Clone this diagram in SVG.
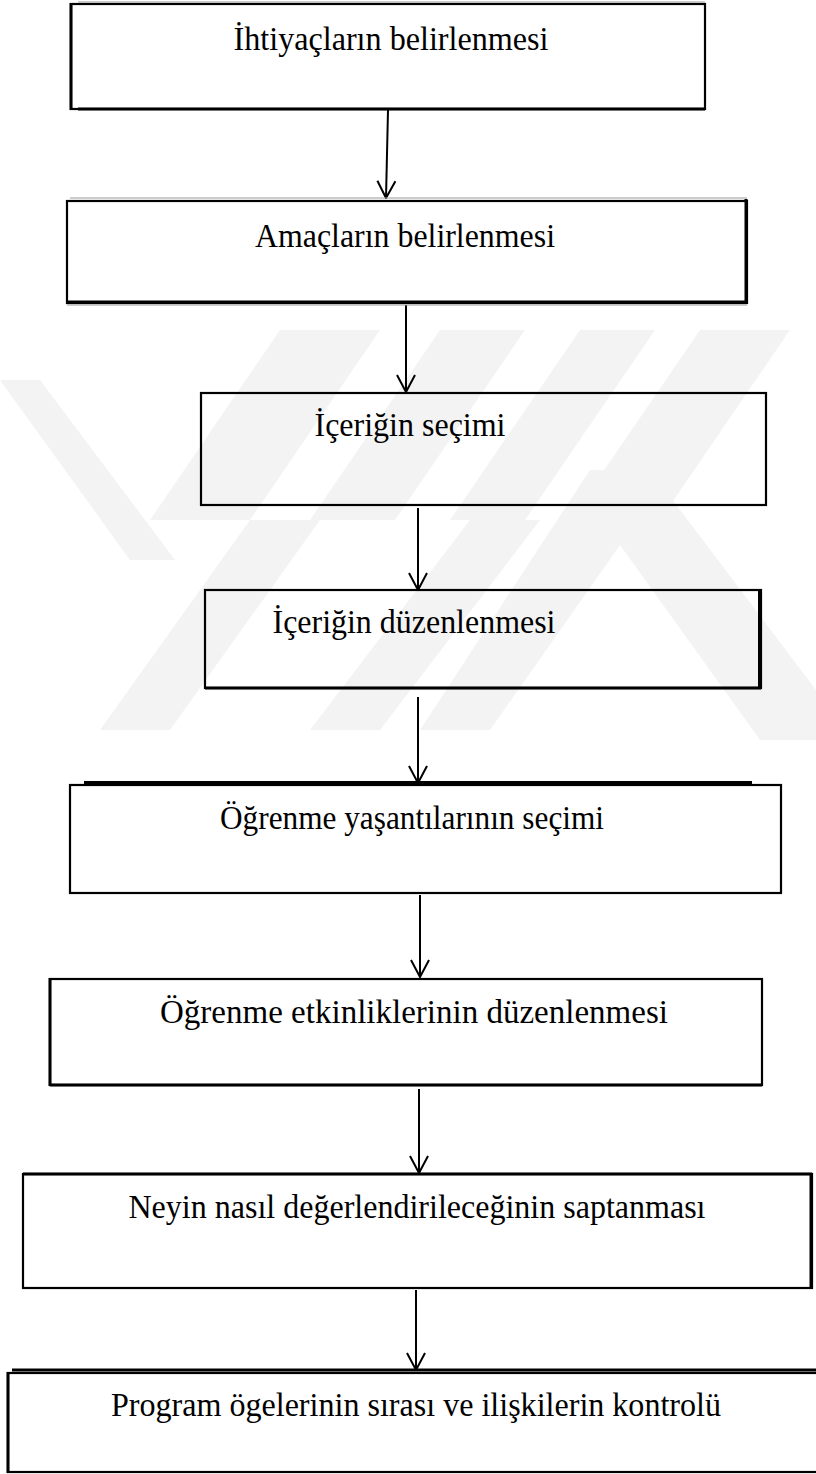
<svg xmlns="http://www.w3.org/2000/svg" width="816" height="1474" viewBox="0 0 816 1474">
  <style>
    .box { fill: none; stroke: #000; stroke-width: 2.2; }
    .edge { stroke: #000; stroke-width: 3; fill: none; }
    .ghost { stroke: #9a9a9a; stroke-width: 1; fill: none; }
    .label { font-family: "Liberation Serif", "Times New Roman", serif; font-size: 34px; fill: #000; text-anchor: middle; }
    .link { stroke: #000; stroke-width: 2; fill: none; }
    .mark { fill: #f3f3f3; }
  </style>
  <defs>
    <marker id="arr" viewBox="0 0 20 20" refX="19" refY="10" markerWidth="20" markerHeight="20" markerUnits="userSpaceOnUse" orient="auto">
      <path d="M2,1 L19,10 L2,19" fill="none" stroke="#000" stroke-width="2"/>
    </marker>
  </defs>

  <rect width="816" height="1474" fill="#fff"/>

  <!-- faint background emblem -->
  <g id="emblem">
    <polygon class="mark" points="280,330 380,330 250,520 150,520"/>
    <polygon class="mark" points="440,330 525,330 395,520 310,520"/>
    <polygon class="mark" points="580,330 655,330 525,520 450,520"/>
    <polygon class="mark" points="700,330 790,330 660,520 570,520"/>
    <polygon class="mark" points="0,380 40,380 175,560 130,560"/>
    <polygon class="mark" points="250,520 320,520 170,730 100,730"/>
    <polygon class="mark" points="470,520 540,520 380,730 310,730"/>
    <polygon class="mark" points="590,470 650,470 816,690 816,740 760,740 620,545 490,730 420,730"/>
  </g>

  <g id="connectors">
    <line class="link" x1="388" y1="110" x2="386" y2="198" marker-end="url(#arr)"/>
    <line class="link" x1="406" y1="305" x2="406" y2="392" marker-end="url(#arr)"/>
    <line class="link" x1="418" y1="508" x2="418" y2="590" marker-end="url(#arr)"/>
    <line class="link" x1="418" y1="697" x2="418" y2="783" marker-end="url(#arr)"/>
    <line class="link" x1="420" y1="895" x2="420" y2="977" marker-end="url(#arr)"/>
    <line class="link" x1="419" y1="1089" x2="419" y2="1173" marker-end="url(#arr)"/>
    <line class="link" x1="416" y1="1290" x2="416" y2="1370" marker-end="url(#arr)"/>
  </g>

  <g id="node1">
    <rect class="box" x="71" y="4" width="634" height="105"/>
    <line class="edge" x1="71" y1="3" x2="71" y2="110"/>
    <line class="ghost" x1="78" y1="2" x2="705" y2="2"/>
    <line class="edge" x1="78" y1="109" x2="705" y2="109"/>
    <text class="label" x="391" y="50" textLength="315" lengthAdjust="spacingAndGlyphs">İhtiyaçların belirlenmesi</text>
  </g>

  <g id="node2">
    <rect class="box" x="67" y="201" width="680" height="102"/>
    <line class="ghost" x1="70" y1="198" x2="747" y2="198"/>
    <line class="edge" x1="746" y1="199" x2="746" y2="304"/>
    <line class="edge" x1="67" y1="302" x2="747" y2="302"/>
    <line class="ghost" x1="67" y1="305" x2="747" y2="305"/>
    <text class="label" x="405" y="247" textLength="300" lengthAdjust="spacingAndGlyphs">Amaçların belirlenmesi</text>
  </g>

  <g id="node3">
    <rect class="box" x="201" y="393" width="565" height="112"/>
    <text class="label" x="410" y="436" textLength="191" lengthAdjust="spacingAndGlyphs">İçeriğin seçimi</text>
  </g>

  <g id="node4">
    <rect class="box" x="205" y="590" width="556" height="98"/>
    <line class="edge" x1="760" y1="589" x2="760" y2="689" style="stroke-width:4"/>
    <line class="edge" x1="205" y1="688" x2="761" y2="688"/>
    <text class="label" x="414" y="633" textLength="283" lengthAdjust="spacingAndGlyphs">İçeriğin düzenlenmesi</text>
  </g>

  <g id="node5">
    <rect class="box" x="70" y="785" width="711" height="108"/>
    <line class="edge" x1="84" y1="783" x2="752" y2="783" style="stroke-width:4"/>
    <text class="label" x="412" y="829" textLength="384" lengthAdjust="spacingAndGlyphs">Öğrenme yaşantılarının seçimi</text>
  </g>

  <g id="node6">
    <rect class="box" x="50" y="979" width="712" height="106"/>
    <line class="edge" x1="50" y1="978" x2="50" y2="1086"/>
    <line class="edge" x1="50" y1="1085" x2="762" y2="1085"/>
    <text class="label" x="414" y="1023" textLength="508" lengthAdjust="spacingAndGlyphs">Öğrenme etkinliklerinin düzenlenmesi</text>
  </g>

  <g id="node7">
    <rect class="box" x="23" y="1174" width="789" height="114"/>
    <line class="edge" x1="23" y1="1174" x2="812" y2="1174"/>
    <line class="edge" x1="811" y1="1174" x2="811" y2="1289"/>
    <text class="label" x="417" y="1218" textLength="577" lengthAdjust="spacingAndGlyphs">Neyin nasıl değerlendirileceğinin saptanması</text>
  </g>

  <g id="node8">
    <rect class="box" x="8" y="1373" width="812" height="99"/>
    <line class="edge" x1="12" y1="1370" x2="816" y2="1370"/>
    <line class="edge" x1="8" y1="1372" x2="8" y2="1473"/>
    <text class="label" x="416" y="1416" textLength="610" lengthAdjust="spacingAndGlyphs">Program ögelerinin sırası ve ilişkilerin kontrolü</text>
  </g>
</svg>
